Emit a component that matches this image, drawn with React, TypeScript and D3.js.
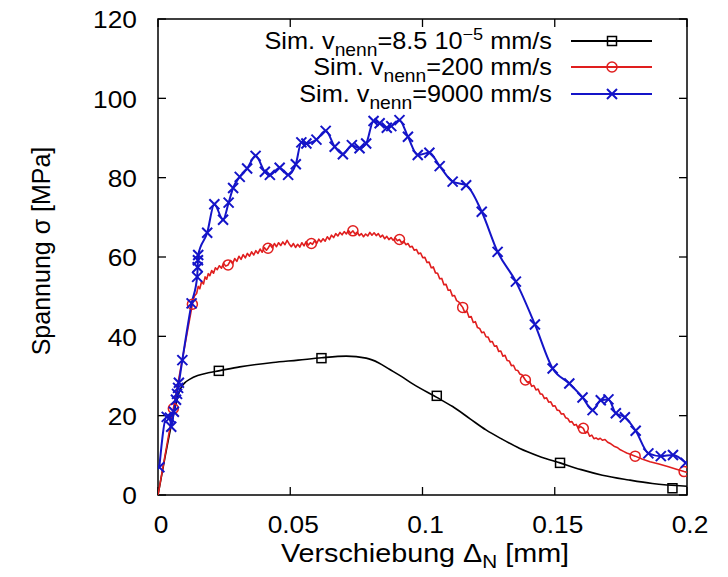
import React from "react";
import * as d3 from "d3";

const xTicks = [0, 0.05, 0.1, 0.15, 0.2];
const yTicks = [0, 20, 40, 60, 80, 100, 120];

const blackLine: [number, number][] = [
  [0, 0], [0.0025, 9], [0.005, 17.5], [0.007, 23.5], [0.0083, 26.5], [0.01, 28.2], [0.0121, 29.2],
  [0.015, 30.1], [0.019, 30.8], [0.023, 31.3], [0.0309, 32.3], [0.0435, 33.4], [0.053, 34.0],
  [0.0618, 34.6], [0.0712, 35.0], [0.0787, 34.5], [0.0835, 33.3], [0.0875, 31.7], [0.092, 29.9],
  [0.0963, 28.0], [0.1054, 24.6], [0.1114, 22.3], [0.118, 19.2], [0.124, 16.4], [0.13, 14.1],
  [0.1366, 11.8], [0.144, 9.8], [0.152, 8.1], [0.16, 6.4], [0.168, 5.0], [0.178, 3.8],
  [0.1869, 2.9], [0.2, 2.2],
];
const blackMarks: [number, number][] = [
  [0.023, 31.3], [0.0618, 34.5], [0.1054, 25.0], [0.152, 8.1], [0.1945, 1.7],
];

const redLine: [number, number][] = [
  [0, 0], [0.0058, 21.8], [0.013, 48.1], [0.0138, 50.2], [0.0146, 50.8], [0.0152, 52.6], [0.0158, 52.0],
  [0.0165, 53.9], [0.0172, 53.2], [0.0178, 55.0], [0.0184, 54.4], [0.019, 55.8], [0.0196, 55.3],
  [0.0203, 56.6], [0.021, 55.9], [0.0217, 57.3], [0.0224, 56.8], [0.0232, 57.8], [0.024, 57.2],
  [0.0248, 58.4], [0.0256, 57.7], [0.0265, 58.0], [0.0274, 59.1], [0.0282, 58.3], [0.029, 59.6],
  [0.0298, 58.9], [0.0306, 60.2], [0.0314, 59.4], [0.0322, 60.6], [0.033, 59.8], [0.0338, 60.9],
  [0.0346, 60.2], [0.0354, 61.3], [0.0362, 60.5], [0.037, 61.6], [0.0378, 60.9], [0.0386, 62.0],
  [0.0394, 61.2], [0.0402, 62.4], [0.041, 61.7], [0.0416, 62.2], [0.0424, 63.1], [0.0432, 62.3],
  [0.044, 63.4], [0.0448, 62.6], [0.0456, 63.6], [0.0464, 62.9], [0.0472, 63.8], [0.048, 63.1],
  [0.0488, 64.2], [0.0496, 63.3], [0.0504, 62.6], [0.0512, 63.4], [0.052, 62.4], [0.0528, 63.2],
  [0.0536, 62.5], [0.0544, 63.6], [0.0552, 62.8], [0.056, 63.9], [0.0568, 63.0], [0.0576, 63.6],
  [0.0584, 63.2], [0.0592, 64.1], [0.06, 63.4], [0.0608, 64.5], [0.0616, 63.8], [0.0624, 64.6],
  [0.0632, 64.0], [0.064, 65.1], [0.0648, 64.4], [0.0656, 65.5], [0.0664, 64.9], [0.0672, 65.9],
  [0.068, 65.3], [0.0688, 66.2], [0.0696, 65.6], [0.0704, 66.4], [0.0712, 65.8], [0.072, 66.7],
  [0.0728, 66.0], [0.0737, 66.6], [0.0745, 65.8], [0.0753, 66.3], [0.0761, 65.4], [0.0769, 65.9],
  [0.0777, 65.1], [0.0785, 65.8], [0.0793, 65.3], [0.0801, 66.2], [0.0809, 65.5], [0.0817, 66.1],
  [0.0825, 65.4], [0.0833, 65.9], [0.0841, 65.0], [0.0849, 65.5], [0.0857, 64.6], [0.0865, 65.2],
  [0.0873, 64.4], [0.0881, 64.9], [0.0889, 64.2], [0.0897, 64.8], [0.0905, 64.1], [0.0913, 64.4],
  [0.0921, 63.6], [0.0929, 64.0], [0.0937, 63.1], [0.0945, 63.4], [0.0953, 62.5], [0.0961, 62.7],
  [0.0969, 61.7], [0.0977, 61.9], [0.0985, 60.8], [0.0993, 61.0], [0.1001, 59.8], [0.1009, 59.9],
  [0.1017, 58.6], [0.1025, 58.7], [0.1033, 57.3], [0.1041, 57.5], [0.1049, 56.0], [0.1057, 55.9],
  [0.1065, 54.5], [0.1073, 54.6], [0.1081, 53.0], [0.1089, 53.1], [0.1097, 51.6], [0.1105, 51.7],
  [0.1113, 50.2], [0.1121, 50.3], [0.1129, 49.0], [0.1137, 48.7], [0.1145, 47.9], [0.1152, 47.3],
  [0.116, 46.0], [0.1168, 46.3], [0.1176, 44.8], [0.1184, 45.0], [0.1192, 43.5], [0.12, 43.7],
  [0.1208, 42.2], [0.1216, 42.0], [0.1224, 40.9], [0.1232, 41.1], [0.124, 39.9], [0.1248, 39.8],
  [0.1256, 38.6], [0.1264, 38.7], [0.1272, 37.5], [0.128, 37.6], [0.1288, 36.2], [0.1296, 36.3],
  [0.1304, 35.0], [0.1312, 35.2], [0.132, 33.9], [0.1328, 33.8], [0.1336, 32.6], [0.1344, 32.7],
  [0.1352, 31.5], [0.136, 31.4], [0.1368, 30.5], [0.1376, 30.3], [0.1389, 29.0], [0.1397, 28.4],
  [0.1405, 28.6], [0.1413, 27.4], [0.1421, 27.6], [0.1429, 26.5], [0.1437, 26.7], [0.1445, 25.5],
  [0.1453, 25.4], [0.1461, 24.3], [0.1469, 24.5], [0.1477, 23.4], [0.1485, 23.5], [0.1493, 22.4],
  [0.1501, 22.5], [0.1509, 21.4], [0.1517, 21.3], [0.1525, 20.4], [0.1533, 20.5], [0.1541, 19.5],
  [0.1549, 19.3], [0.1557, 18.4], [0.1565, 18.5], [0.1573, 17.6], [0.1581, 17.8], [0.1589, 16.8],
  [0.1597, 17.3], [0.1608, 16.8], [0.1616, 15.6], [0.1624, 16.0], [0.1632, 14.8], [0.164, 15.1],
  [0.1648, 14.2], [0.1656, 14.4], [0.1664, 14.0], [0.1672, 14.3], [0.168, 13.8], [0.169, 14.0],
  [0.17, 13.3], [0.1712, 12.9], [0.1724, 12.3], [0.1736, 12.0], [0.1748, 11.4], [0.176, 11.0],
  [0.1772, 10.6], [0.1788, 10.2], [0.1804, 9.8], [0.183, 9.1], [0.186, 8.4], [0.1894, 7.8],
  [0.193, 7.1], [0.196, 6.5], [0.1989, 5.9], [0.2, 5.7],
];
const redMarks: [number, number][] = [
  [0.0058, 21.8], [0.013, 48.1], [0.0265, 58.0], [0.0416, 62.2], [0.058, 63.4], [0.0737, 66.6],
  [0.0913, 64.4], [0.1152, 47.3], [0.1389, 29.0], [0.1608, 16.8], [0.1804, 9.8], [0.1989, 5.9],
];

const blueLine: [number, number][] = [
  [0.0005, 7.0], [0.0033, 19.7], [0.0045, 19.5], [0.005, 17.2], [0.006, 21.0], [0.0068, 24.0],
  [0.0072, 25.5], [0.0076, 27.0], [0.0079, 28.3], [0.0092, 34.0], [0.0127, 48.3], [0.0148, 55.0],
  [0.015, 57.4], [0.0151, 59.2], [0.0152, 60.5], [0.0186, 66.1], [0.0213, 73.3], [0.0246, 69.4],
  [0.0267, 73.7], [0.0284, 77.4], [0.0309, 80.2], [0.0337, 82.3], [0.0369, 85.5], [0.0404, 81.5],
  [0.0423, 80.7], [0.046, 82.5], [0.0492, 80.7], [0.0521, 83.4], [0.0542, 88.9], [0.0561, 88.6],
  [0.0599, 89.6], [0.0634, 91.8], [0.0668, 87.8], [0.0699, 85.9], [0.0733, 88.2], [0.0762, 87.4],
  [0.0787, 88.6], [0.0815, 94.3], [0.0838, 93.7], [0.0865, 92.6], [0.0882, 93.0], [0.0913, 94.5],
  [0.0945, 90.3], [0.0982, 85.7], [0.1026, 86.3], [0.1065, 82.9], [0.1114, 79.0], [0.1165, 78.1],
  [0.1224, 71.4], [0.1284, 61.3], [0.1353, 53.8], [0.1425, 43.0], [0.1492, 31.9], [0.1555, 28.1],
  [0.1605, 24.6], [0.1643, 21.4], [0.1674, 23.9], [0.1703, 24.1], [0.1731, 20.6], [0.1765, 19.6],
  [0.1806, 16.2], [0.1854, 10.5], [0.1901, 9.8], [0.1947, 10.1], [0.1995, 8.1],
];

const BLACK = "#000000";
const RED = "#e01e1e";
const BLUE = "#1414c8";
const FONT = "'Liberation Sans', Arial, Helvetica, sans-serif";

const W = 728;
const H = 577;
const L = 158, R = 687, T = 19, B = 495;
const SX = 1.12; // horizontal stretch of the reference lettering

export default function App() {
  const x = d3.scaleLinear().domain([0, 0.2]).range([L, R]);
  const y = d3.scaleLinear().domain([0, 120]).range([B, T]);
  const smooth = d3.line<[number, number]>().x((d) => x(d[0])).y((d) => y(d[1])).curve(d3.curveMonotoneX);
  const straight = d3.line<[number, number]>().x((d) => x(d[0])).y((d) => y(d[1]));

  const sq = (cx: number, cy: number, color: string, key: string) => (
    <rect key={key} x={cx - 4.5} y={cy - 4.5} width={9} height={9} fill="none" stroke={color} strokeWidth={1.5} />
  );
  const circ = (cx: number, cy: number, color: string, key: string) => (
    <circle key={key} cx={cx} cy={cy} r={5} fill="none" stroke={color} strokeWidth={1.5} />
  );
  const cross = (cx: number, cy: number, color: string, key: string) => (
    <path key={key} d={`M${cx - 5},${cy - 5}L${cx + 5},${cy + 5}M${cx - 5},${cy + 5}L${cx + 5},${cy - 5}`} stroke={color} strokeWidth={2} fill="none" />
  );

  const legend = [
    { color: BLACK, mark: sq, pre: "=8.5 10", sup: "\u22125", post: " mm/s" },
    { color: RED, mark: circ, pre: "=200 mm/s", sup: "", post: "" },
    { color: BLUE, mark: cross, pre: "=9000 mm/s", sup: "", post: "" },
  ];
  const legendRows = [41, 67, 94];

  return (
    <svg width={W} height={H} style={{ position: "absolute", left: 0, top: 0, background: "#fff" }} fontFamily={FONT}>
      <rect x={0} y={0} width={W} height={H} fill="#fff" />
      <defs>
        <clipPath id="plot">
          <rect x={L} y={T - 10} width={R - L} height={B - T + 10} />
        </clipPath>
      </defs>
      {/* ticks */}
      {xTicks.map((t) => (
        <g key={"xt" + t}>
          <line x1={x(t)} x2={x(t)} y1={B} y2={B - 8} stroke="#000" strokeWidth={1.3} />
          <line x1={x(t)} x2={x(t)} y1={T} y2={T + 8} stroke="#000" strokeWidth={1.3} />
          <text transform={`translate(${x(t) + 3},525) scale(${SX},1)`} fontSize={23.5} textAnchor="middle" dominantBaseline="central">{String(t)}</text>
        </g>
      ))}
      {yTicks.map((t) => (
        <g key={"yt" + t}>
          <line x1={L} x2={L + 8} y1={y(t)} y2={y(t)} stroke="#000" strokeWidth={1.3} />
          <line x1={R} x2={R - 8} y1={y(t)} y2={y(t)} stroke="#000" strokeWidth={1.3} />
          <text transform={`translate(137,${y(t) + 1}) scale(${SX},1)`} fontSize={23.5} textAnchor="end" dominantBaseline="central">{String(t)}</text>
        </g>
      ))}
      <rect x={L} y={T} width={R - L} height={B - T} fill="none" stroke="#000" strokeWidth={1.5} />

      {/* axis titles */}
      <text transform={`translate(425,562) scale(1.15,1)`} fontSize={25} textAnchor="middle">
        Verschiebung Δ<tspan fontSize={18} dy={6}>N</tspan><tspan dy={-6}> [mm]</tspan>
      </text>
      <text transform={`translate(50,251) rotate(-90)`} fontSize={25} textAnchor="middle">Spannung σ [MPa]</text>

      {/* series */}
      <g clipPath="url(#plot)">
        <path d={smooth(blackLine) || ""} fill="none" stroke={BLACK} strokeWidth={1.6} />
        <path d={straight(redLine) || ""} fill="none" stroke={RED} strokeWidth={1.6} strokeLinejoin="round" />
        <path d={smooth(blueLine) || ""} fill="none" stroke={BLUE} strokeWidth={2} />
        {blackMarks.map((d, i) => sq(x(d[0]), y(d[1]), BLACK, "bm" + i))}
        {redMarks.map((d, i) => circ(x(d[0]), y(d[1]), RED, "rm" + i))}
        {blueLine.map((d, i) => cross(x(d[0]), y(d[1]), BLUE, "um" + i))}
      </g>

      {/* legend */}
      {legend.map((lg, i) => (
        <g key={"lg" + i}>
          <text transform={`translate(552,${legendRows[i] + 8}) scale(1.1,1)`} fontSize={23} textAnchor="end">
            Sim. v<tspan fontSize={17.5} dy={7}>nenn</tspan>
            <tspan dy={-7}>{lg.pre}</tspan>
            {lg.sup ? <tspan fontSize={16.5} dy={-9}>{lg.sup}</tspan> : null}
            {lg.post ? <tspan dy={9}>{lg.post}</tspan> : null}
          </text>
          <line x1={571} x2={652} y1={legendRows[i]} y2={legendRows[i]} stroke={lg.color} strokeWidth={2} />
          {lg.mark(612, legendRows[i], lg.color, "lm" + i)}
        </g>
      ))}
    </svg>
  );
}
